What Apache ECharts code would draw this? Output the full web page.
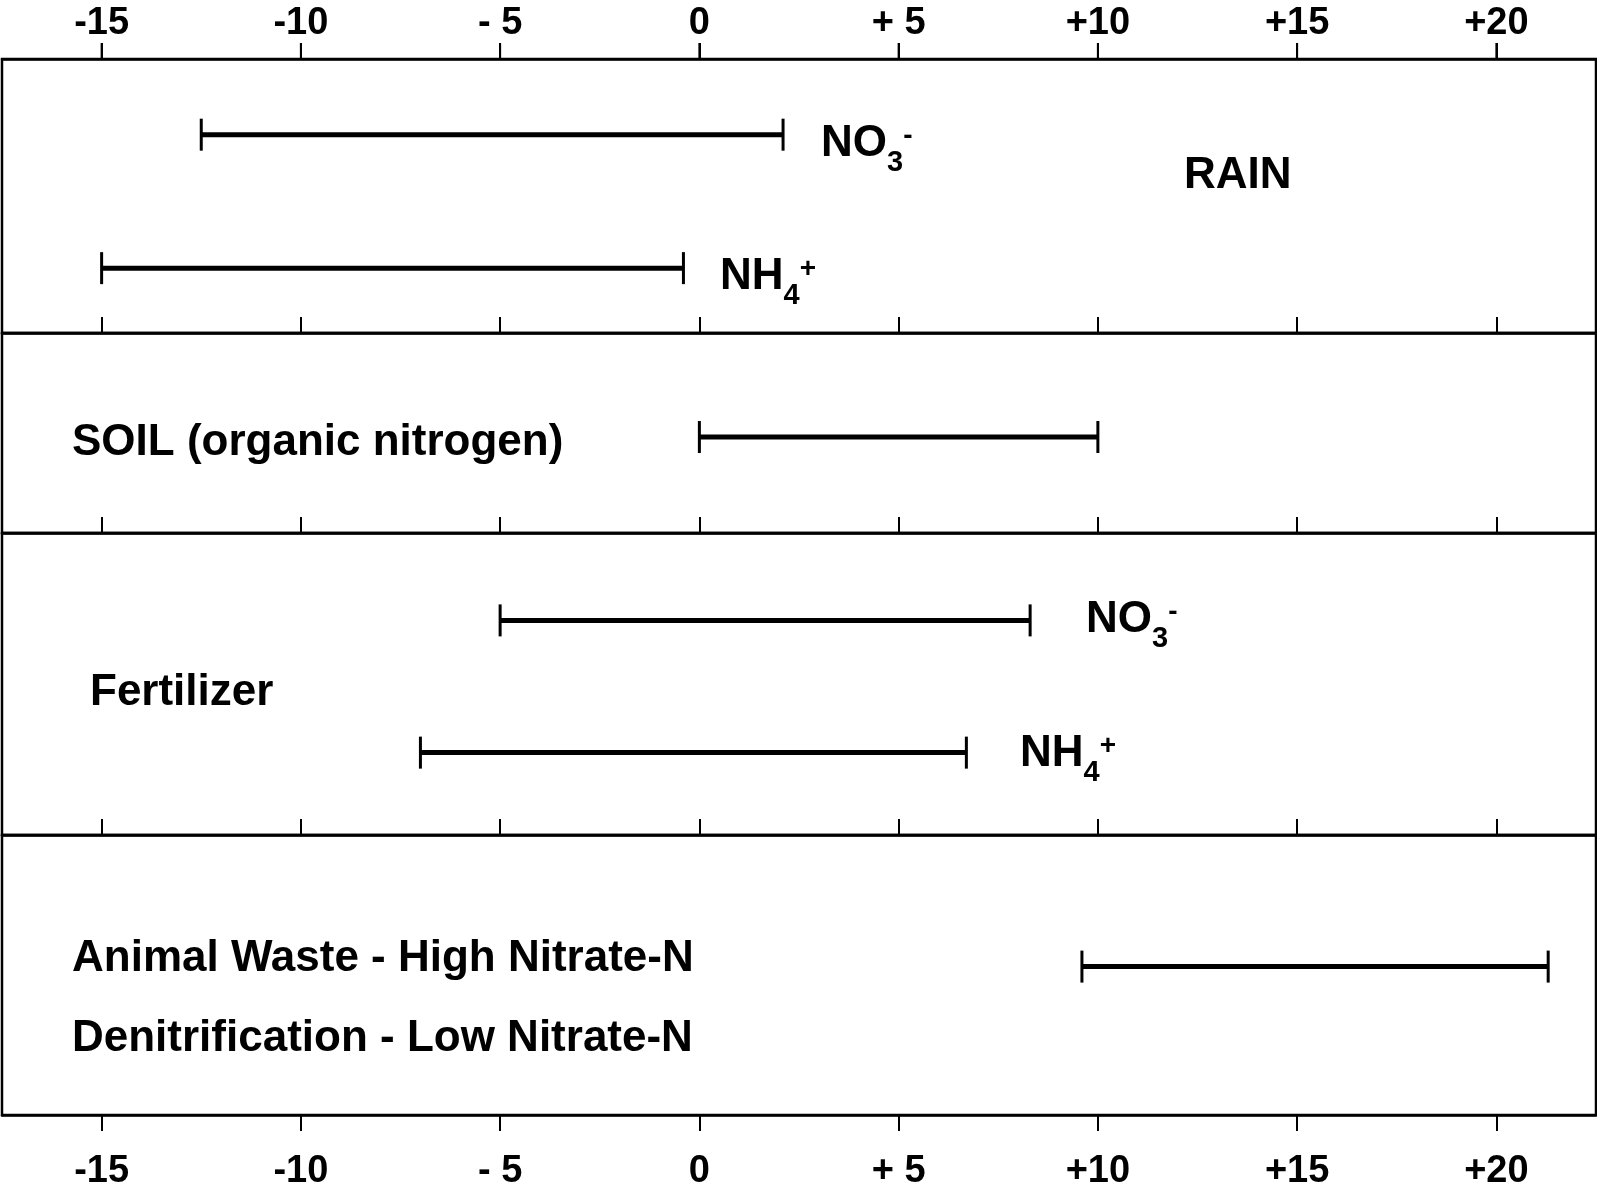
<!DOCTYPE html>
<html>
<head>
<meta charset="utf-8">
<title>Nitrogen isotope ranges by source</title>
<script src="https://cdn.jsdelivr.net/npm/echarts@6/dist/echarts.min.js"></script>
<style>
  html, body { margin: 0; padding: 0; background: #fff; }
  #chart { width: 1597px; height: 1191px; }
</style>
</head>
<body>
<div id="chart"></div>
<script>
// δ15N ranges (per mil) for each nitrogen source
const tickValues = [-15, -10, -5, 0, 5, 10, 15, 20];
const tickLabels = ['-15', '-10', '- 5', '0', '+ 5', '+10', '+15', '+20'];

// RAIN: row 1 = NO3-, row 0 = NH4+
const rainRows = [1, 0];
const rainLow = [-12.5, -15];
const rainHigh = [2.1, -0.4];

// SOIL (organic nitrogen)
const soilRows = [0];
const soilLow = [0];
const soilHigh = [10];

// Fertilizer: row 1 = NO3-, row 0 = NH4+
const fertRows = [1, 0];
const fertLow = [-5, -7];
const fertHigh = [8.3, 6.7];

// Animal waste / denitrification
const animalRows = [0];
const animalLow = [9.6];
const animalHigh = [21.3];

const FONT = '"Liberation Sans", Arial, Helvetica, sans-serif';
const X_MIN = -17.5, X_MAX = 22.5;
const TICK_LEN = 16;

function rows(r, lo, hi) {
  return r.map((row, i) => [row, lo[i], hi[i]]);
}

// horizontal range bar with end caps
function renderRange(params, api) {
  const y = api.value(0);
  const a = api.coord([api.value(1), y]);
  const b = api.coord([api.value(2), y]);
  const cap = 16;
  const stroke = { stroke: '#000', lineWidth: 3 };
  return {
    type: 'group',
    children: [
      { type: 'line', shape: { x1: a[0], y1: a[1], x2: b[0], y2: b[1] }, style: { stroke: '#000', lineWidth: 5 } },
      { type: 'line', shape: { x1: a[0], y1: a[1] - cap, x2: a[0], y2: a[1] + cap }, style: stroke },
      { type: 'line', shape: { x1: b[0], y1: b[1] - cap, x2: b[0], y2: b[1] + cap }, style: stroke }
    ]
  };
}

const labelFmt = v => {
  const i = tickValues.findIndex(t => Math.abs(t - v) < 1e-6);
  return i < 0 ? '' : tickLabels[i];
};
// top scale label: the number with its tick mark drawn underneath
const topLabelFmt = v => {
  const s = labelFmt(v);
  return s ? '{n|' + s + '}\n{t| }' : '';
};

const panels = [
  { top: 59, height: 274, yMin: -0.486, yMax: 1.567, data: rows(rainRows, rainLow, rainHigh) },
  { top: 333, height: 200, yMin: -0.96, yMax: 1.04, data: rows(soilRows, soilLow, soilHigh) },
  { top: 533, height: 302, yMin: -0.623, yMax: 1.661, data: rows(fertRows, fertLow, fertHigh) },
  { top: 835, height: 280, yMin: -1.06, yMax: 0.94, data: rows(animalRows, animalLow, animalHigh) }
];

const grid = panels.map(p => ({
  left: 2, right: 1, top: p.top, height: p.height,
  show: true, borderColor: '#000', borderWidth: 2.5,
  containLabel: false, outerBoundsMode: 'none'
}));

const xAxis = [];
panels.forEach((p, i) => {
  const last = i === panels.length - 1;
  xAxis.push({
    type: 'value', gridIndex: i, position: 'bottom',
    min: X_MIN, max: X_MAX,
    splitLine: { show: false },
    axisLine: { show: true, onZero: false, lineStyle: { color: '#000', width: 2.5 } },
    axisTick: { show: true, inside: !last, length: TICK_LEN, customValues: tickValues, lineStyle: { color: '#000', width: 2 } },
    axisLabel: {
      show: last, customValues: tickValues, formatter: labelFmt, margin: 38,
      color: '#000', fontFamily: FONT, fontWeight: 'bold', fontSize: 38
    }
  });
});
// scale along the top of the first panel
xAxis.push({
  type: 'value', gridIndex: 0, position: 'top',
  min: X_MIN, max: X_MAX,
  splitLine: { show: false },
  axisLine: { show: true, onZero: false, lineStyle: { color: '#000', width: 2.5 } },
  axisTick: { show: true, inside: false, length: TICK_LEN, customValues: tickValues, lineStyle: { color: '#000', width: 2 } },
  axisLabel: {
    show: true, customValues: tickValues, formatter: topLabelFmt, margin: 0,
    align: 'center', verticalAlign: 'bottom',
    rich: {
      n: { color: '#000', fontFamily: FONT, fontWeight: 'bold', fontSize: 38, lineHeight: 38, align: 'center' },
      t: { width: 2, height: TICK_LEN, lineHeight: TICK_LEN, fontSize: 8, backgroundColor: '#000', align: 'center' }
    }
  }
});

const yAxis = panels.map((p, i) => ({
  type: 'value', gridIndex: i, min: p.yMin, max: p.yMax, show: false
}));

const series = panels.map((p, i) => ({
  type: 'custom', xAxisIndex: i, yAxisIndex: i,
  renderItem: renderRange,
  encode: { x: [1, 2], y: 0 },
  data: p.data,
  silent: true
}));

const baseText = { fill: '#000', fontFamily: FONT, fontWeight: 'bold', fontSize: 44 };
const ionRich = {
  m: { fontFamily: FONT, fontWeight: 'bold', fontSize: 44, lineHeight: 44, verticalAlign: 'top', fill: '#000' },
  sub: { fontFamily: FONT, fontWeight: 'bold', fontSize: 29, lineHeight: 29, padding: [26, 0, 0, 0], verticalAlign: 'top', fill: '#000' },
  sup: { fontFamily: FONT, fontWeight: 'bold', fontSize: 28, lineHeight: 28, verticalAlign: 'top', fill: '#000' }
};
const NO3 = '{m|NO}{sub|3}{sup|-}';
const NH4 = '{m|NH}{sub|4}{sup|+}';

function plain(text, x, y) {
  return { type: 'text', x: x, y: y, style: Object.assign({ text: text, verticalAlign: 'middle', align: 'left' }, baseText) };
}
function ion(text, x, y) {
  return { type: 'text', x: x, y: y, style: { text: text, rich: ionRich, verticalAlign: 'top', align: 'left' } };
}

const graphic = [
  plain('RAIN', 1184, 176),
  ion(NO3, 821, 122),
  ion(NH4, 720, 255),
  plain('SOIL (organic nitrogen)', 72, 443),
  ion(NO3, 1086, 598),
  plain('Fertilizer', 90, 693),
  ion(NH4, 1020, 732),
  plain('Animal Waste - High Nitrate-N', 72, 959),
  plain('Denitrification - Low Nitrate-N', 72, 1039)
];

const chart = echarts.init(document.getElementById('chart'), null, { renderer: 'canvas' });
chart.setOption({
  animation: false,
  backgroundColor: '#fff',
  grid: grid,
  xAxis: xAxis,
  yAxis: yAxis,
  series: series,
  graphic: graphic
});
</script>
</body>
</html>
